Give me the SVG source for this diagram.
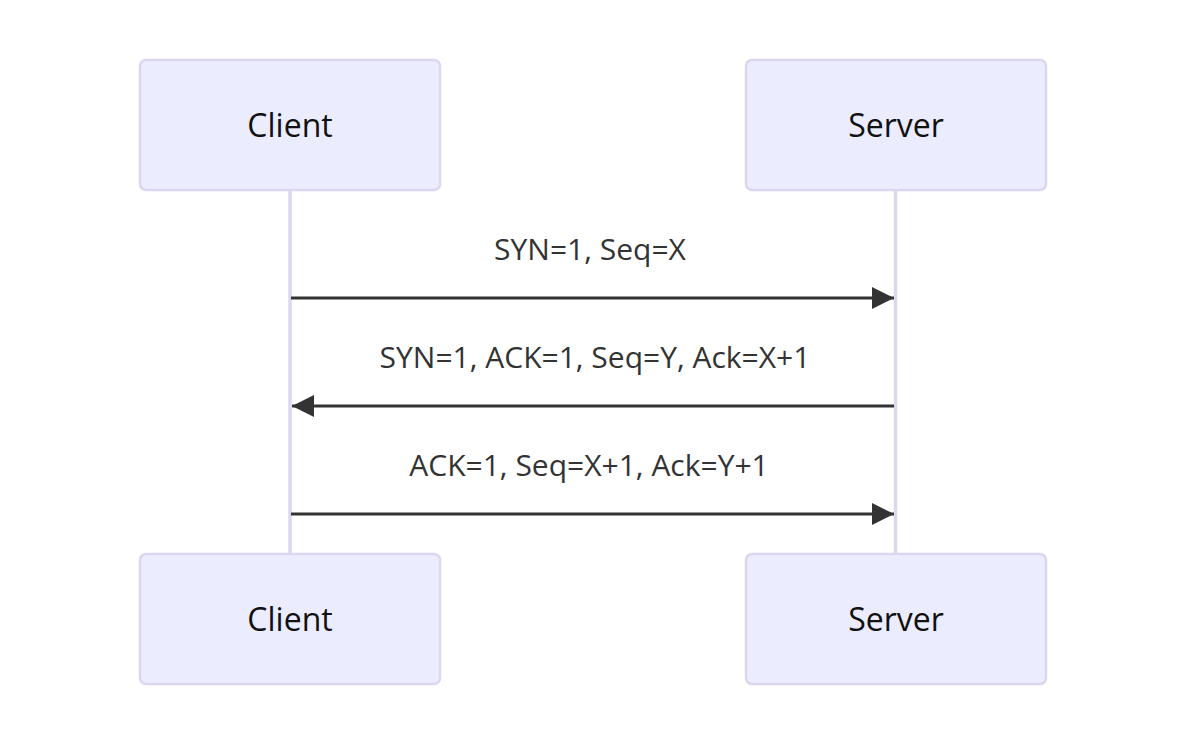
<svg xmlns="http://www.w3.org/2000/svg" width="1186" height="746" viewBox="0 0 1186 746">
<style>
.actor{fill:#ECECFF;stroke:#DDD6F3;stroke-width:2.5}
.atext{font-family:"Open Sans","Noto Sans",sans-serif;font-size:32px;fill:#111;text-anchor:middle;dominant-baseline:central}
.life{stroke:#DDD6F3;stroke-width:3.5}
.msg{stroke:#333;stroke-width:3;fill:none}
.mtext{font-family:"Open Sans","Noto Sans",sans-serif;font-size:30px;fill:#333;text-anchor:middle}
</style>
<defs>
<marker id="ah" markerUnits="userSpaceOnUse" markerWidth="24" markerHeight="22" refX="22" refY="11" orient="auto">
<path d="M0,0 L22,11 L0,22 Z" fill="#333"/>
</marker>
</defs>
<rect width="1186" height="746" fill="#fff"/>
<g id="lifelines">
<line class="life" x1="290" y1="190" x2="290" y2="554"/>
<line class="life" x1="895.5" y1="190" x2="895.5" y2="554"/>
</g>
<g id="client-top"><rect class="actor" x="140" y="60" width="300" height="130" rx="6"/><text class="atext" x="290" y="124">Client</text></g>
<g id="server-top"><rect class="actor" x="746" y="60" width="300" height="130" rx="6"/><text class="atext" x="896" y="124">Server</text></g>
<g id="client-bottom"><rect class="actor" x="140" y="554" width="300" height="130" rx="6"/><text class="atext" x="290" y="618">Client</text></g>
<g id="server-bottom"><rect class="actor" x="746" y="554" width="300" height="130" rx="6"/><text class="atext" x="896" y="618">Server</text></g>
<g id="connectors">
<line class="msg" x1="291" y1="298" x2="894" y2="298" marker-end="url(#ah)"/>
<line class="msg" x1="894" y1="406" x2="292" y2="406" marker-end="url(#ah)"/>
<line class="msg" x1="291" y1="514" x2="894" y2="514" marker-end="url(#ah)"/>
<text class="mtext" x="590" y="260">SYN=1, Seq=X</text>
<text class="mtext" x="595" y="368">SYN=1, ACK=1, Seq=Y, Ack=X+1</text>
<text class="mtext" x="589" y="476">ACK=1, Seq=X+1, Ack=Y+1</text>
</g>
</svg>
